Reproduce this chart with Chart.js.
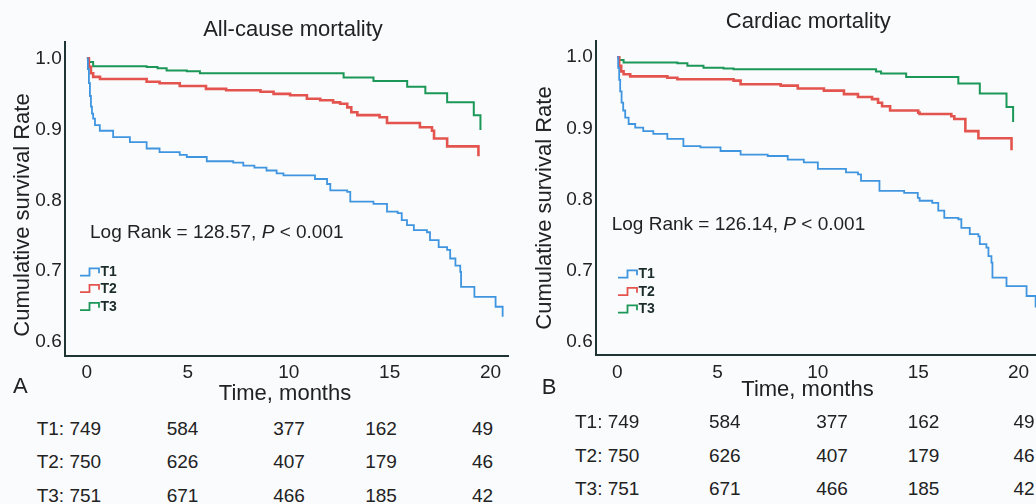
<!DOCTYPE html>
<html><head><meta charset="utf-8">
<script src="https://cdn.jsdelivr.net/npm/chart.js@4.4.1/dist/chart.umd.min.js"></script>
<style>
html,body{margin:0;padding:0;}
body{width:1036px;height:504px;overflow:hidden;position:relative;background:#fafbfd;font-family:"Liberation Sans",Arial,sans-serif;color:#222;}
.t{position:absolute;white-space:nowrap;line-height:1;}
canvas{position:absolute;top:0;}
</style></head><body>
<canvas id="cA" width="520" height="410" style="left:0;width:520px;height:410px"></canvas>
<canvas id="cB" width="516" height="410" style="left:520px;width:516px;height:410px"></canvas>
<div id="ov"></div>
<script>
// ---------- data ----------
const groups = ['T1', 'T2', 'T3'];
const xTicks = [0, 5, 10, 15, 20];
const xTickLabels = ['0', '5', '10', '15', '20'];
const yTicks = [0.6, 0.7, 0.8, 0.9, 1.0];
const yTickLabels = ['0.6', '0.7', '0.8', '0.9', '1.0'];

// All-cause mortality: [month, cumulative survival]
const allT1 = [[0,1],[0.05,0.985],[0.1,0.965],[0.15,0.947],[0.2,0.932],[0.25,0.922],[0.31,0.915],[0.4,0.906],[0.64,0.898],[1.3,0.889],[2.13,0.882],[2.96,0.873],[3.6,0.868],[4.6,0.864],[4.95,0.861],[5.94,0.855],[7.25,0.853],[7.75,0.849],[8.3,0.846],[8.9,0.842],[9.4,0.838],[9.74,0.835],[11.3,0.83],[11.9,0.823],[12.06,0.814],[12.9,0.812],[13.05,0.798],[14.2,0.795],[14.87,0.784],[15.4,0.782],[15.6,0.772],[15.86,0.765],[16.2,0.758],[16.85,0.755],[17.0,0.744],[17.43,0.734],[17.85,0.73],[18.0,0.718],[18.26,0.708],[18.5,0.699],[18.54,0.678],[19.2,0.664],[20.25,0.65],[20.6,0.636]];
const allT2 = [[0,1],[0.1,0.988],[0.2,0.979],[0.31,0.974],[0.65,0.971],[2.96,0.967],[3.6,0.965],[4.6,0.961],[5.9,0.957],[6.9,0.955],[8.6,0.953],[9.25,0.95],[10.07,0.948],[10.9,0.943],[11.56,0.941],[12.2,0.938],[12.55,0.936],[12.9,0.931],[13.1,0.924],[13.4,0.92],[14.5,0.917],[14.87,0.909],[16.5,0.903],[17.1,0.898],[17.2,0.887],[17.85,0.876],[19.4,0.862]];
const allT3 = [[0,1],[0.1,0.995],[0.31,0.989],[2.96,0.988],[3.5,0.986],[3.95,0.983],[4.95,0.982],[5.6,0.979],[12.72,0.973],[14.2,0.968],[15.87,0.96],[16.77,0.951],[17.85,0.938],[19.17,0.92],[19.5,0.899]];

// Cardiac mortality
const cardT1 = [[0,1],[0.05,0.985],[0.1,0.968],[0.15,0.952],[0.22,0.936],[0.3,0.925],[0.4,0.915],[0.57,0.906],[0.9,0.901],[1.3,0.896],[1.8,0.892],[2.5,0.885],[3.3,0.875],[4.15,0.873],[5.15,0.868],[6.15,0.863],[7.5,0.861],[8.5,0.856],[9.3,0.852],[10.0,0.843],[11.4,0.838],[12.0,0.835],[12.15,0.826],[13.07,0.812],[14.3,0.809],[14.98,0.802],[15.07,0.798],[15.7,0.795],[16.0,0.784],[16.3,0.774],[17.0,0.772],[17.15,0.76],[17.57,0.751],[18.0,0.748],[18.07,0.737],[18.4,0.732],[18.5,0.72],[18.65,0.711],[18.7,0.69],[19.4,0.678],[20.4,0.664],[20.85,0.648]];
const cardT2 = [[0,1],[0.1,0.988],[0.2,0.98],[0.32,0.976],[0.65,0.973],[2.5,0.971],[3.0,0.969],[5.8,0.967],[6.15,0.962],[8.15,0.96],[9.0,0.956],[10.3,0.953],[11.3,0.948],[12.0,0.944],[12.7,0.941],[13.0,0.936],[13.2,0.931],[13.6,0.925],[15.0,0.922],[15.07,0.92],[16.65,0.917],[16.8,0.913],[17.35,0.896],[18.0,0.886],[19.65,0.869]];
const cardT3 = [[0,1],[0.1,0.996],[0.32,0.9925],[3.0,0.9915],[3.5,0.988],[4.3,0.985],[5.3,0.984],[5.8,0.983],[12.9,0.98],[13.15,0.977],[14.4,0.972],[17.0,0.963],[18.07,0.949],[19.4,0.93],[19.73,0.909]];

// numbers at risk
const riskT1 = [749, 584, 377, 162, 49];
const riskT2 = [750, 626, 407, 179, 46];
const riskT3 = [751, 671, 466, 185, 42];

// ---------- style ----------
const FONT = '"Liberation Sans", Arial, sans-serif';
const colors = ['#3f95df', '#e4544f', '#1b9757'];
const widths = [1.8, 2.6, 2.0];
const axisColor = '#1f3535';

const stepLegend = {
  id: 'stepLegend',
  afterDraw(chart, args, o) {
    const ctx = chart.ctx;
    ctx.save();
    chart.data.datasets.forEach((ds, i) => {
      const c = o.ys[i], x = o.x;
      ctx.beginPath();
      ctx.strokeStyle = ds.borderColor;
      ctx.lineWidth = 1.8;
      ctx.moveTo(x, c + 3.7);
      ctx.lineTo(x + 9.5, c + 3.7);
      ctx.lineTo(x + 9.5, c - 3.7);
      ctx.lineTo(x + 19, c - 3.7);
      ctx.lineTo(x + 19, c + 1.3);
      ctx.stroke();
      ctx.fillStyle = '#1c2b2b';
      ctx.font = 'bold 14px ' + FONT;
      ctx.textBaseline = 'middle';
      ctx.textAlign = 'left';
      ctx.fillText(ds.label, x + 20.5, c + 0.5);
    });
    ctx.restore();
  }
};

function makeChart(id, sets, L) {
  return new Chart(document.getElementById(id), {
    type: 'line',
    data: {
      datasets: sets.map((s, i) => ({
        label: groups[i],
        data: s.map(p => ({ x: p[0], y: p[1] })),
        borderColor: colors[i],
        backgroundColor: colors[i],
        borderWidth: widths[i],
        stepped: true,
        pointRadius: 0,
        fill: false
      }))
    },
    options: {
      responsive: false, animation: false, devicePixelRatio: 1,
      layout: { padding: { left: 0, top: L.top, right: L.right, bottom: 0 } },
      plugins: { legend: { display: false }, tooltip: { enabled: false }, stepLegend: { x: L.legX, ys: L.legY } },
      scales: {
        x: {
          type: 'linear', min: L.xmin, max: L.xmax,
          afterFit(s) { s.height = L.xh; },
          afterBuildTicks(s) { s.ticks = xTicks.map(v => ({ value: v })); },
          grid: { display: false, drawTicks: false },
          border: { display: true, color: axisColor, width: 2 },
          ticks: { padding: 6, color: '#222', font: { size: 19, family: FONT }, maxRotation: 0, autoSkip: false,
                   callback: (v, i) => xTickLabels[i] }
        },
        y: {
          type: 'linear', min: 0.581, max: 1.0235,
          afterFit(s) { s.width = L.yw; },
          afterBuildTicks(s) { s.ticks = yTicks.map(v => ({ value: v })); },
          grid: { display: false, drawTicks: false },
          border: { display: true, color: axisColor, width: 2 },
          ticks: { padding: 3, color: '#222', font: { size: 19, family: FONT }, autoSkip: false,
                   callback: (v, i) => yTickLabels[i] }
        }
      }
    },
    plugins: [stepLegend]
  });
}

makeChart('cA', [allT1, allT2, allT3], { top: 41.7, right: 11.7, yw: 64.7, xh: 54.3, xmin: -1.1, xmax: 20.88, legX: 80, legY: [272, 288.5, 306.5] });
makeChart('cB', [cardT1, cardT2, cardT3], { top: 40.5, right: 0, yw: 75.7, xh: 55, xmin: -1.07, xmax: 20.87, legX: 98, legY: [274, 291.5, 309] });

// ---------- text overlay ----------
const ov = document.getElementById('ov');
function txt(html, x, y, size, extra) {
  const d = document.createElement('div');
  d.className = 't';
  d.innerHTML = html;
  d.style.left = x + 'px';
  d.style.top = y + 'px';
  d.style.fontSize = size + 'px';
  if (extra) Object.assign(d.style, extra);
  ov.appendChild(d);
  return d;
}
function centered(html, cx, y, size) {
  const d = txt(html, cx, y, size, { transform: 'translateX(-50%)' });
  return d;
}
function vtitle(html, cx, cy, size) {
  const d = txt(html, cx - 150, cy - size / 2, size, { width: '300px', textAlign: 'center', transform: 'rotate(-90deg)' });
  return d;
}

// titles
centered('All-cause mortality', 293, 18.1, 22);
centered('Cardiac mortality', 808.3, 9.7, 22);
// y axis titles
vtitle('Cumulative survival Rate', 22, 215, 22);
vtitle('Cumulative survival Rate', 544, 208, 22);
// x axis titles
centered('Time, months', 285, 381.6, 22);
centered('Time, months', 807.5, 378.1, 22);
// panel letters
txt('A', 13, 374.5, 22);
txt('B', 541.7, 376.4, 22);
// log rank
txt('Log Rank = 128.57, <i>P</i> &lt; 0.001', 90, 222.2, 19);
txt('Log Rank = 126.14, <i>P</i> &lt; 0.001', 611.7, 214, 19);

// number-at-risk tables
const risks = [riskT1, riskT2, riskT3];
function table(firstX, centers, tops) {
  risks.forEach((r, i) => {
    txt(groups[i] + ': ' + r[0], firstX, tops[i], 19);
    for (let k = 1; k < r.length; k++) centered(String(r[k]), centers[k - 1], tops[i], 19);
  });
}
table(36.7, [182.5, 289, 381, 482.5], [418.9, 452.2, 485.6]);
table(575, [724.8, 832, 923.5, 1024], [412.2, 445.6, 478.9]);
</script>
</body></html>
